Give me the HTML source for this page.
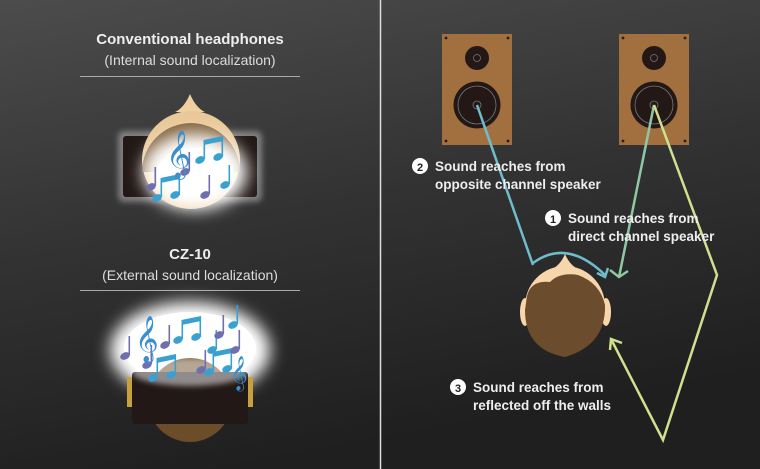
<!DOCTYPE html>
<html><head><meta charset="utf-8"><style>
html,body{margin:0;padding:0;width:760px;height:469px;overflow:hidden;background:#2a2a2a}
text{font-family:"Liberation Sans",sans-serif;}
</style></head><body>
<svg width="760" height="469" viewBox="0 0 760 469" xmlns="http://www.w3.org/2000/svg">
<defs>
<linearGradient id="bg" x1="0" y1="0" x2="0.3" y2="1">
<stop offset="0" stop-color="#4c4c4c"/><stop offset="0.5" stop-color="#333"/><stop offset="1" stop-color="#1f1f1f"/>
</linearGradient>
<filter id="blur" x="-50%" y="-50%" width="200%" height="200%"><feGaussianBlur stdDeviation="8"/></filter>
<filter id="blur2" x="-50%" y="-50%" width="200%" height="200%"><feGaussianBlur stdDeviation="3"/></filter>
<g id="note"><ellipse cx="0" cy="0" rx="5" ry="3.5" transform="rotate(-25)"/><rect x="3.5" y="-20" width="1.6" height="19"/></g>
<g id="dnote"><ellipse cx="0" cy="0" rx="5" ry="3.5" transform="rotate(-25)"/><ellipse cx="18" cy="-3" rx="5" ry="3.5" transform="rotate(-25 18 -3)"/><rect x="3.5" y="-20" width="1.6" height="19"/><rect x="21.5" y="-23" width="1.6" height="20"/><polygon points="3.5,-20 23,-24 23,-19 3.5,-15"/></g>
</defs>
<rect width="760" height="469" fill="url(#bg)"/>
<line x1="380.5" y1="0" x2="380.5" y2="469" stroke="#ddd" stroke-width="1.5"/>

<!-- Left titles -->
<text x="190" y="44" fill="#eee" font-size="15" font-weight="bold" text-anchor="middle">Conventional headphones</text>
<text x="190" y="65" fill="#ddd" font-size="14" text-anchor="middle">(Internal sound localization)</text>
<line x1="80" y1="76.5" x2="300" y2="76.5" stroke="#aaa" stroke-width="1"/>
<text x="190" y="259" fill="#eee" font-size="15" font-weight="bold" text-anchor="middle">CZ-10</text>
<text x="190" y="280" fill="#ddd" font-size="14" text-anchor="middle">(External sound localization)</text>
<line x1="80" y1="290.5" x2="300" y2="290.5" stroke="#aaa" stroke-width="1"/>

<!-- Head 1 -->
<rect x="118" y="131" width="144" height="71" rx="6" fill="#fff" opacity="0.35" filter="url(#blur2)"/>
<rect x="123" y="136" width="134" height="61" rx="3" fill="#221816"/>
<path d="M190,94 Q196,108 205,112 L175,112 Q184,108 190,94Z" fill="#f0cfa0"/>
<circle cx="191" cy="160" r="49" fill="#e9c99a"/>
<path d="M142,172 A49,49 0 0 1 240,172 Z" fill="#6a4c2c" opacity="0.8"/>
<ellipse cx="195" cy="172" rx="52" ry="38" fill="#fff" filter="url(#blur)"/>
<ellipse cx="195" cy="172" rx="38" ry="24" fill="#fff"/>
<g fill="#3aa0d0"><use href="#dnote" x="200" y="160"/><use href="#dnote" x="157" y="198"/><use href="#note" x="225" y="185"/></g>
<g fill="#6f6fae"><use href="#note" x="185" y="172"/><use href="#note" x="151" y="187"/><use href="#note" x="205" y="195"/></g>
<text x="166" y="168" font-size="42" fill="#3a8fd0" font-family="DejaVu Sans,sans-serif">𝄞</text>

<!-- Head 2 -->
<ellipse cx="190" cy="350" rx="80" ry="48" fill="#fff" filter="url(#blur)"/>
<ellipse cx="190" cy="348" rx="66" ry="36" fill="#fff"/>
<circle cx="190" cy="400" r="42" fill="#6c4d2a"/>
<rect x="127" y="377" width="6" height="30" fill="#c9a040"/>
<rect x="247" y="377" width="6" height="30" fill="#c9a040"/>
<rect x="132" y="372" width="116" height="52" rx="3" fill="#221816"/>
<ellipse cx="190" cy="372" rx="58" ry="14" fill="#fff" opacity="0.5" filter="url(#blur2)"/>
<g fill="#3aa0d0"><use href="#dnote" x="178" y="340"/><use href="#dnote" x="153" y="378"/><use href="#dnote" x="209" y="372"/><use href="#note" x="212" y="350"/><use href="#note" x="233" y="325"/></g>
<g fill="#6f6fae"><use href="#note" x="165" y="345"/><use href="#note" x="125" y="356"/><use href="#note" x="147" y="365"/><use href="#note" x="201" y="370"/><use href="#note" x="219" y="335"/><use href="#note" x="235" y="350"/></g>
<text x="135" y="352" font-size="40" fill="#3a8fd0" font-family="DejaVu Sans,sans-serif">𝄞</text>
<text x="230" y="383" font-size="30" fill="#3a8fd0" font-family="DejaVu Sans,sans-serif">𝄞</text>

<!-- Speakers -->
<g id="spk">
<rect x="442" y="34" width="70" height="111" fill="#a2703f"/>
<g fill="#2a1a14"><circle cx="446" cy="38" r="1.4"/><circle cx="508" cy="38" r="1.4"/><circle cx="446" cy="141" r="1.4"/><circle cx="508" cy="141" r="1.4"/></g>
<circle cx="477" cy="58" r="12" fill="#231815"/><circle cx="477" cy="58" r="3.5" fill="none" stroke="#777" stroke-width="0.8"/>
<circle cx="477" cy="105" r="23.5" fill="#231815"/><circle cx="477" cy="105" r="19" fill="none" stroke="#777" stroke-width="0.8"/><circle cx="477" cy="105" r="4" fill="none" stroke="#777" stroke-width="0.8"/>
</g>
<use href="#spk" x="177"/>

<!-- Head right -->
<path d="M565,254 Q570,266 580,270 L550,270 Q560,266 565,254Z" fill="#f7d6ab"/>
<ellipse cx="525" cy="312" rx="5" ry="14" fill="#f7d6ab"/>
<ellipse cx="606" cy="312" rx="5" ry="14" fill="#f7d6ab"/>
<circle cx="565" cy="306" r="40" fill="#f7d6ab"/>
<path d="M527,296 Q531,280 550,282 Q560,272 578,275 Q600,283 605,305 Q606,345 565,357 Q525,350 525,310 Z" fill="#6b4c2c"/>

<!-- Lines -->
<g fill="none" stroke-width="2.5" stroke-linejoin="miter">
<path d="M477,105 L533,265" stroke="#6fbccc"/>
<path d="M533,263 Q567,238 605,275" stroke="#6fbccc"/>
<path d="M597,273 L605,277 L608,268" stroke="#6fbccc"/>
<path d="M654,105 L619,277" stroke="#8fc8a4"/>
<path d="M610,270 L619,277 L628,271" stroke="#8fc8a4"/>
<path d="M654,105 L717,275 L663,440 L611,339" stroke="#cfe08f"/>
<path d="M610,350 L611,339 L622,343" stroke="#cfe08f"/>
</g>

<!-- Labels -->
<g font-size="13.5" font-weight="bold" fill="#eee">
<circle cx="420" cy="166" r="8" fill="#fff"/><text x="420" y="171" font-size="11" fill="#222" text-anchor="middle">2</text>
<text x="435" y="171">Sound reaches from</text><text x="435" y="189">opposite channel speaker</text>
<circle cx="553" cy="218" r="8" fill="#fff"/><text x="553" y="223" font-size="11" fill="#222" text-anchor="middle">1</text>
<text x="568" y="223">Sound reaches from</text><text x="568" y="241">direct channel speaker</text>
<circle cx="458" cy="387" r="8" fill="#fff"/><text x="458" y="392" font-size="11" fill="#222" text-anchor="middle">3</text>
<text x="473" y="392">Sound reaches from</text><text x="473" y="410">reflected off the walls</text>
</g>
</svg>
</body></html>
